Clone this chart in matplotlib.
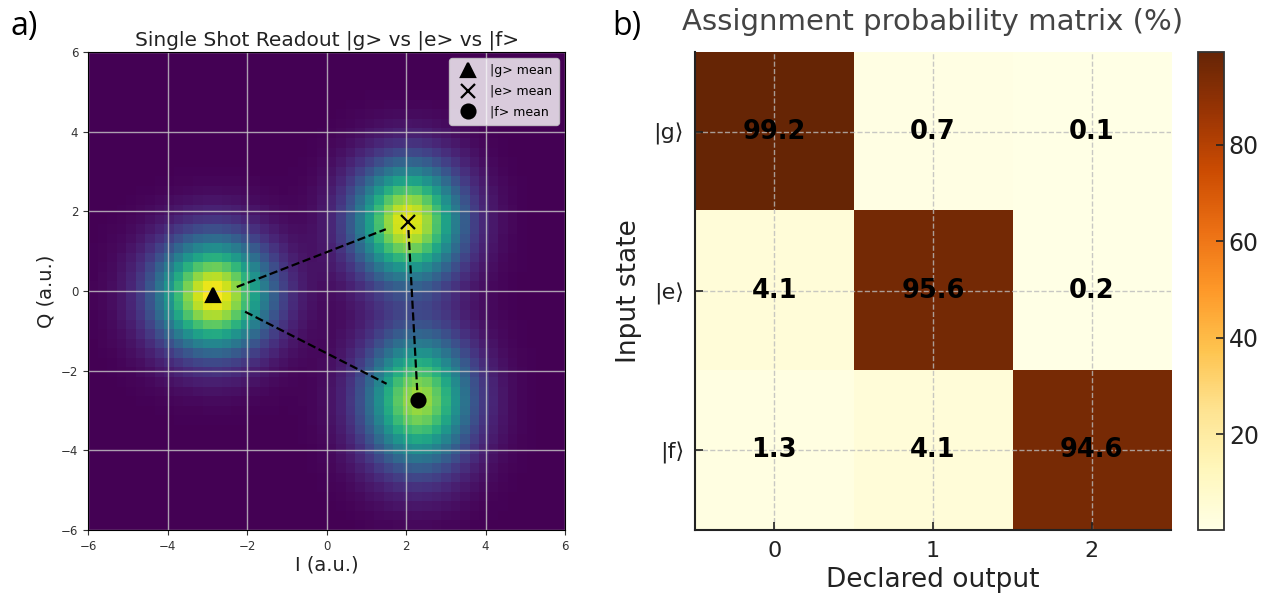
import numpy as np
import matplotlib
matplotlib.use("Agg")
from matplotlib import pyplot as plt

plt.rcParams['font.family'] = ['DejaVu Sans']

# --- panel a: readout clouds (2D Gaussian model per state) ---
states = ['|g> mean', '|e> mean', '|f> mean']
centers_i = [-2.85, 2.05, 2.30]
centers_q = [-0.10, 1.73, -2.74]
sigma_i = [0.98, 0.92, 0.92]
sigma_q = [0.98, 1.02, 1.15]
peak = [1.0, 0.97, 0.86]
markers = ['^', 'x', 'o']
n_bins = 50

# dashed guide segments (start, end) in I/Q units
seg_i0 = [-2.26, -2.05, 2.06]
seg_q0 = [0.10, -0.52, 1.53]
seg_i1 = [1.49, 1.51, 2.28]
seg_q1 = [1.55, -2.33, -2.49]

# --- panel b: assignment matrix ---
declared = ['0', '1', '2']
inputs = ['|g⟩', '|e⟩', '|f⟩']
prob = np.array([[99.2, 0.7, 0.1],
                 [4.1, 95.6, 0.2],
                 [1.3, 4.1, 94.6]])

fig = plt.figure(figsize=(12.67, 5.99), dpi=100)

ax1 = fig.add_axes([0.0695, 0.1152, 0.3765, 0.798])
edges = np.linspace(-6, 6, n_bins + 1)
mid = 0.5 * (edges[:-1] + edges[1:])
II, QQ = np.meshgrid(mid, mid)
dens = np.zeros_like(II)
for ci, cq, si, sq, a in zip(centers_i, centers_q, sigma_i, sigma_q, peak):
    dens += a * np.exp(-0.5 * (((II - ci) / si) ** 2 + ((QQ - cq) / sq) ** 2))
ax1.pcolormesh(edges, edges, dens, cmap='viridis', shading='flat')

for a, b, c, d in zip(seg_i0, seg_q0, seg_i1, seg_q1):
    ax1.plot([a, c], [b, d], 'k--', lw=1.6)
for ci, cq, m, lab in zip(centers_i, centers_q, markers, states):
    ax1.plot(ci, cq, m, color='k', ms=10, mew=1.6, ls='none', label=lab)

ax1.set_xlim(-6, 6)
ax1.set_ylim(-6, 6)
ax1.set_xticks([-6, -4, -2, 0, 2, 4, 6])
ax1.set_yticks([-6, -4, -2, 0, 2, 4, 6])
ax1.tick_params(labelsize=8.5, colors='#333333')
ax1.grid(True, color='#c8c8c8', lw=1, alpha=0.8)
ax1.set_xlabel('I (a.u.)', fontsize=14, color='#222222', labelpad=2)
ax1.set_ylabel('Q (a.u.)', fontsize=14, color='#222222')
ax1.set_title('Single Shot Readout |g> vs |e> vs |f>', fontsize=14.5, color='#222222', pad=5)
ax1.legend(loc='upper right', fontsize=9, framealpha=0.8, handletextpad=0.8,
           borderpad=0.5, labelspacing=0.6)

# --- panel b ---
ax2 = fig.add_axes([0.5485, 0.1152, 0.3757, 0.798])
im = ax2.imshow(prob, cmap='YlOrBr', aspect='auto')
for r in range(prob.shape[0]):
    for c in range(prob.shape[1]):
        ax2.text(c, r, f'{prob[r, c]:.1f}', ha='center', va='center',
                 fontsize=18.5, fontweight='bold', color='black')
ax2.set_xticks(range(len(declared)))
ax2.set_xticklabels(declared)
ax2.set_yticks(range(len(inputs)))
ax2.set_yticklabels(inputs)
ax2.tick_params(direction='in', length=6, width=1.2, labelsize=16,
                colors='#222222', pad=8)
ax2.grid(True, ls='--', color='#bbbbbb', lw=1, alpha=0.8)
for s in ['top', 'right']:
    ax2.spines[s].set_visible(False)
for s in ['left', 'bottom']:
    ax2.spines[s].set_linewidth(1.5)
    ax2.spines[s].set_color('#222222')
ax2.set_xlabel('Declared output', fontsize=19, color='#222222', labelpad=4)
ax2.set_ylabel('Input state', fontsize=19, color='#222222', labelpad=8)
ax2.set_title('Assignment probability matrix (%)', fontsize=21, color='#444444', pad=16)

cax = fig.add_axes([0.9455, 0.1152, 0.0205, 0.798])
cb = fig.colorbar(im, cax=cax)
cb.set_ticks([20, 40, 60, 80])
cb.ax.tick_params(direction='in', length=6, width=1.2, labelsize=17, colors='#222222')
cb.outline.set_linewidth(1.3)
cb.outline.set_edgecolor('#333333')

fig.text(0.008, 0.942, 'a)', fontsize=23, family=['Open Sans', 'DejaVu Sans'])
fig.text(0.483, 0.942, 'b)', fontsize=23, family=['Open Sans', 'DejaVu Sans'])

fig.savefig('out.png', dpi=100)
